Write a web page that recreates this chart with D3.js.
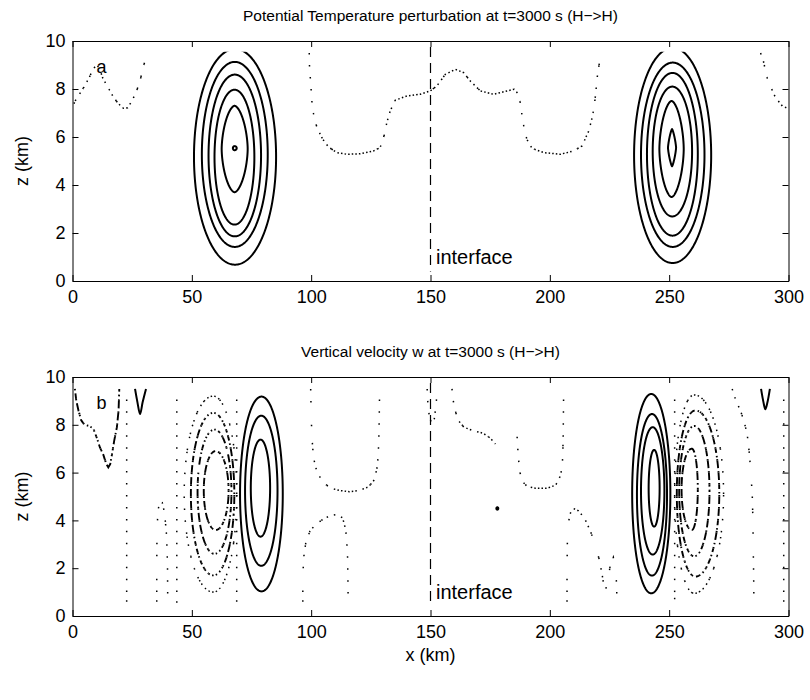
<!DOCTYPE html>
<html><head><meta charset="utf-8">
<script src="https://cdn.jsdelivr.net/npm/d3@7"></script>
<style>
body{margin:0;background:#fff}
svg{display:block}
text{font-family:"Liberation Sans",Arial,Helvetica,sans-serif;fill:#000}
</style>
</head><body><svg id="c" width="810" height="700"></svg>
<script>
// ---------------- data ----------------
const xTicks = [0, 50, 100, 150, 200, 250, 300];
const zTicks = [0, 2, 4, 6, 8, 10];
const titleA = "Potential Temperature perturbation at t=3000 s (H\u2212>H)";
const titleB = "Vertical velocity w at t=3000 s (H\u2212>H)";
const xLabel = "x (km)";
const zLabel = "z (km)";
const panelTags = ["a", "b"];
const interfaceKm = 150;
const interfaceText = "interface";

// closed contours: [centre x, left x, right x, bottom z, top z, roundness]
const thetaPositive = [
  [68.1, 50.9, 85.3, 0.68, 9.67, 2],
  [68.0, 54.2, 81.8, 1.42, 9.13, 2],
  [68.0, 57.0, 79.0, 1.86, 8.60, 2],
  [67.9, 59.5, 76.2, 2.35, 7.97, 2],
  [67.9, 62.5, 73.4, 3.70, 7.30, 1.7],
  [67.9, 67.2, 68.8, 5.45, 5.62, 2],
  [251.45, 235.3, 267.6, 0.75, 9.72, 2],
  [251.5, 238.2, 264.8, 1.42, 9.10, 2],
  [251.4, 240.7, 262.0, 1.89, 8.67, 2],
  [251.3, 243.1, 259.6, 2.69, 8.10, 2],
  [251.0, 245.9, 256.1, 3.50, 7.50, 1.7],
  [251.2, 249.5, 252.9, 4.78, 6.33, 1.3]
];
// zero contour of panel a: [x, z] points
const thetaZero = [
  [[0.6,7.39],[1.5,7.57],[2.9,7.78],[4.8,8.08],[7.0,8.47],[8.7,8.85],[10.3,9.0],[11.5,8.8],[12.7,8.45],[15.0,8.05],[17.1,7.67],[19.2,7.39],[21.3,7.2],[23.1,7.22],[24.9,7.5],[26.9,7.92],[28.6,8.47],[29.7,8.92],[30.8,9.33],[31.2,9.5]],
  [[99.2,9.5],[99.3,8.96],[99.6,8.54],[100,7.95],[100.5,7.22],[101.7,6.6],[103.1,6.25],[104.9,5.9],[107.3,5.58],[110.8,5.35],[115,5.28],[120.5,5.3],[126.1,5.42],[128.9,5.56],[130.6,6.07],[131.7,6.6],[133.1,7.08],[135.2,7.53],[140.1,7.71],[145.7,7.78],[149.9,7.92],[152.7,8.13],[156.2,8.61],[160.4,8.82],[163.9,8.68],[166.7,8.33],[170.9,7.92],[176.4,7.78],[182.1,7.92],[185.1,7.99],[186.9,7.78],[187.6,7.43],[188.3,6.94],[189.3,6.32],[190.4,5.9],[192.5,5.53],[197.4,5.35],[204.4,5.28],[210,5.42],[213.5,5.63],[216.3,6.25],[217.4,6.67],[218.4,7.15],[219.1,7.71],[220,8.61],[220.9,9.17],[221.3,9.5]],
  [[288.3,9.5],[289.4,9.2],[290.4,8.75],[291.3,8.36],[292.5,8.13],[293.8,7.78],[295.5,7.53],[297.4,7.29],[299.5,7.2],[300,7.18]]
];

// panel b
const wPositive = [
  [79.2, 70.2, 88.1, 1.03, 9.18, 2],
  [79.1, 72.3, 85.9, 2.10, 8.38, 2],
  [78.8, 74.7, 82.8, 3.32, 7.38, 2],
  [242.5, 234.5, 250.5, 0.95, 9.29, 2],
  [242.8, 236.5, 249.1, 1.69, 8.45, 2],
  [243.1, 238.2, 248.0, 2.57, 7.90, 2],
  [243.7, 241.4, 246.0, 3.74, 6.95, 2],
  [178.0, 177.6, 178.4, 4.45, 4.55, 2]
];
const wPositiveOpen = [
  [[26.2,9.5],[27.2,8.95],[28.3,8.45],[29.4,8.95],[30.8,9.5]],
  [[288.5,9.5],[289.5,8.95],[290.3,8.65],[291.2,8.95],[292.2,9.5]]
];
const wNegative = [
  [59.0, 49.6, 67.8, 1.7, 8.5, 2],
  [59.5, 52.4, 66.6, 2.6, 7.8, 2],
  [60.0, 55.0, 65.4, 3.6, 6.9, 2],
  [261.0, 253.2, 271.0, 1.65, 8.6, 2],
  [260.5, 254.2, 266.9, 2.5, 7.95, 2],
  [259.5, 255.2, 262.0, 3.6, 7.0, 2]
];
const wNegativeOpen = [
  [[1.0,9.5],[1.6,9.0],[2.5,8.6],[3.6,8.2],[5.0,8.0],[7.0,7.95],[8.7,7.85],[10.2,7.45],[11.5,7.05],[12.9,6.75],[14.2,6.35],[15.0,6.22],[15.8,6.35],[16.6,6.8],[17.5,7.35],[18.6,7.9],[19.3,8.6],[19.6,9.5]]
];
const wZeroClosed = [
  [59.0, 46.8, 68.8, 1.0, 9.2, 2],
  [260.5, 252.3, 272.8, 0.95, 9.25, 2]
];
const wZero = [
  [[22.7,0.6],[22.7,9.5]],
  [[35.3,0.6],[35.3,2.0],[35.4,3.5],[35.8,4.4],[36.6,4.82],[37.6,4.75],[38.6,4.3],[39.4,3.4],[39.8,2.2],[39.9,0.6]],
  [[43.7,0.55],[43.7,9.5]],
  [[68.8,0.6],[68.8,9.5]],
  [[96.5,0.6],[96.5,1.5],[96.8,2.4],[97.8,3.1],[99.5,3.55],[102,3.85],[105,4.05],[108,4.2],[111,4.25],[113.2,4.1],[114.5,3.6],[115.2,2.7],[115.4,1.6],[115.5,0.6]],
  [[99.8,9.5],[100,8.5],[100.3,7.5],[101,6.6],[102.5,6.0],[105,5.6],[108,5.35],[112,5.25],[116,5.2],[120,5.25],[124,5.4],[126.5,5.7],[127.8,6.3],[128.3,7.2],[128.5,8.2],[128.7,9.5]],
  [[148.6,9.5],[148.9,8.9],[149.5,8.35],[150.5,8.05],[151.6,8.25],[152.4,8.9],[152.8,9.5]],
  [[159,9.5],[159.8,8.8],[161.5,8.2],[164,7.9],[168,7.75],[172,7.65],[175,7.45],[177.2,7.2]],
  [[186.3,7.5],[186.7,6.8],[187.3,6.1],[188.3,5.65],[190.5,5.42],[194,5.35],[199,5.35],[202.5,5.48],[204.6,5.9],[205.4,6.6],[205.6,7.6],[205.7,8.6],[205.8,9.5]],
  [[207.2,0.6],[207.2,2.0],[207.4,3.5],[208.3,4.25],[209.8,4.5],[212,4.4],[214.5,4.1],[217,3.55],[219,3.0],[220.6,2.4],[221.8,1.8],[222.6,1.3],[223.4,1.1],[224.3,1.5],[225.3,2.1],[226.6,2.45],[227.5,2.0],[228,1.3],[228.1,0.6]],
  [[252.3,0.7],[252.3,9.5]],
  [[276.4,9.5],[278,9.0],[279.9,8.59],[281.5,8.1],[282.7,7.6],[283.6,6.8],[284.2,6.0],[284.8,5.1],[285.1,4.0],[285.2,3.0],[285.4,1.8],[285.5,0.6]],
  [[298,0.6],[298,9.5]]
];

// ---------------- rendering ----------------
const FS = 18, FS_TITLE = 15.5, FS_NOTE = 20;
const GRID_X = 1.5, GRID_Z = 0.5;   // model grid used to break contour lines
const svg = d3.select("#c");
const x = d3.scaleLinear().domain([0, 300]).range([72.5, 788.5]);

function shapePoints(c, n = 360) {
  const [cx, L, R, B, T, p] = c;
  const cz = (B + T) / 2, e = 2 / p, pts = [];
  for (let i = 0; i <= n; i++) {
    const t = 2 * Math.PI * i / n, ct = Math.cos(t), st = Math.sin(t);
    const ex = Math.sign(ct) * Math.pow(Math.abs(ct), e);
    const ez = Math.sign(st) * Math.pow(Math.abs(st), e);
    pts.push([cx + ex * (ct >= 0 ? R - cx : cx - L), cz + ez * (st >= 0 ? T - cz : cz - B)]);
  }
  return pts;
}
function splitGrid(pts) {
  const segs = []; let cur = [pts[0]];
  for (let i = 1; i < pts.length; i++) {
    const [x0, z0] = pts[i - 1], [x1, z1] = pts[i], ts = [];
    if (x1 !== x0) for (let k = Math.ceil(Math.min(x0, x1) / GRID_X); k * GRID_X <= Math.max(x0, x1); k++) {
      const t = (k * GRID_X - x0) / (x1 - x0); if (t > 1e-9 && t < 1 - 1e-9) ts.push(t);
    }
    if (z1 !== z0) for (let k = Math.ceil(Math.min(z0, z1) / GRID_Z); k * GRID_Z <= Math.max(z0, z1); k++) {
      const t = (k * GRID_Z - z0) / (z1 - z0); if (t > 1e-9 && t < 1 - 1e-9) ts.push(t);
    }
    ts.sort((a, b) => a - b);
    for (const t of ts) {
      const p = [x0 + t * (x1 - x0), z0 + t * (z1 - z0)];
      cur.push(p); segs.push(cur); cur = [p];
    }
    cur.push(pts[i]);
  }
  if (cur.length > 1) segs.push(cur);
  return segs;
}

const styles = {
  solid:   {w: 2,   dash: null},
  dotted:  {w: 1.5, dash: "1.5,40"},
  dashdot: {w: 1.9, dash: "1.5,3,8,40"}
};

function drawPanel(idx, top, bottom, title, layers) {
  const z = d3.scaleLinear().domain([0, 10]).range([bottom, top]);
  const g = svg.append("g");
  const clipId = "clip" + idx;
  svg.append("defs").append("clipPath").attr("id", clipId).append("rect")
    .attr("x", x(0)).attr("y", z(9.55)).attr("width", x(300) - x(0)).attr("height", z(0) - z(9.55));
  const cg = g.append("g").attr("clip-path", `url(#${clipId})`);
  const line = d3.line().x(d => x(d[0])).y(d => z(d[1]));
  const smooth = d3.line().x(d => x(d[0])).y(d => z(d[1])).curve(d3.curveCatmullRom);

  layers.forEach(({style, closed, open}) => {
    const st = styles[style];
    const polys = [];
    (closed || []).forEach(c => polys.push({pts: shapePoints(c), smooth: false}));
    (open || []).forEach(o => polys.push({pts: o, smooth: true}));
    polys.forEach(poly => {
      if (!st.dash) {
        cg.append("path").attr("d", (poly.smooth ? smooth : line)(poly.pts))
          .attr("fill", "none").attr("stroke", "#000").attr("stroke-width", st.w)
          .attr("stroke-linejoin", "round");
      } else {
        cg.append("g").selectAll("path").data(splitGrid(poly.pts)).join("path")
          .attr("d", line).attr("fill", "none").attr("stroke", "#000")
          .attr("stroke-width", st.w).attr("stroke-dasharray", st.dash);
      }
    });
  });

  // interface line and label
  g.append("line").attr("x1", x(interfaceKm)).attr("x2", x(interfaceKm))
    .attr("y1", z(9.75)).attr("y2", z(0.4)).attr("stroke", "#000").attr("stroke-width", 1.2)
    .attr("stroke-dasharray", "10,6");
  g.append("text").attr("x", x(152.3)).attr("y", z(1.0)).attr("dy", "0.35em")
    .attr("font-size", FS_NOTE).text(interfaceText);
  g.append("text").attr("x", x(12.2)).attr("y", z(8.93)).attr("dy", "0.35em")
    .attr("text-anchor", "middle").attr("font-size", FS).text(panelTags[idx]);

  // axes (inward ticks, box)
  const fmt = d3.format("d");
  const axB = g.append("g").attr("transform", `translate(0,${bottom})`)
    .call(d3.axisBottom(x).tickValues(xTicks).tickFormat(fmt).tickSizeInner(-6).tickSizeOuter(0).tickPadding(9));
  const axT = g.append("g").attr("transform", `translate(0,${top})`)
    .call(d3.axisTop(x).tickValues(xTicks).tickFormat("").tickSizeInner(-6).tickSizeOuter(0));
  const axL = g.append("g").attr("transform", `translate(${x(0)},0)`)
    .call(d3.axisLeft(z).tickValues(zTicks).tickFormat(fmt).tickSizeInner(-6).tickSizeOuter(0).tickPadding(7));
  const axR = g.append("g").attr("transform", `translate(${x(300)},0)`)
    .call(d3.axisRight(z).tickValues(zTicks).tickFormat("").tickSizeInner(-6).tickSizeOuter(0));
  [axB, axT, axL, axR].forEach(a => {
    a.attr("font-size", FS).attr("font-family", null);
    a.selectAll("path,line").attr("stroke", "#000").attr("stroke-width", 1);
    a.selectAll("text").attr("fill", "#000");
  });

  // titles & labels
  svg.append("text").attr("x", (x(0) + x(300)) / 2).attr("y", top - 25).attr("dy", "0.35em")
    .attr("text-anchor", "middle").attr("font-size", FS_TITLE).text(title);
  svg.append("text").attr("transform", `translate(22,${(top + bottom) / 2}) rotate(-90)`)
    .attr("dy", "0.35em").attr("text-anchor", "middle").attr("font-size", FS).text(zLabel);
  return z;
}

const panelA = {top: 41, bottom: 281};
const panelB = {top: 377, bottom: 616};
drawPanel(0, panelA.top, panelA.bottom, titleA, [
  {style: "dotted", open: thetaZero},
  {style: "solid", closed: thetaPositive}
]);
drawPanel(1, panelB.top, panelB.bottom, titleB, [
  {style: "dotted", open: wZero, closed: wZeroClosed},
  {style: "dashdot", open: wNegativeOpen, closed: wNegative},
  {style: "solid", open: wPositiveOpen, closed: wPositive}
]);
svg.append("text").attr("x", (x(0) + x(300)) / 2).attr("y", panelB.bottom + 39).attr("dy", "0.35em")
  .attr("text-anchor", "middle").attr("font-size", FS).text(xLabel);
</script></body></html>
